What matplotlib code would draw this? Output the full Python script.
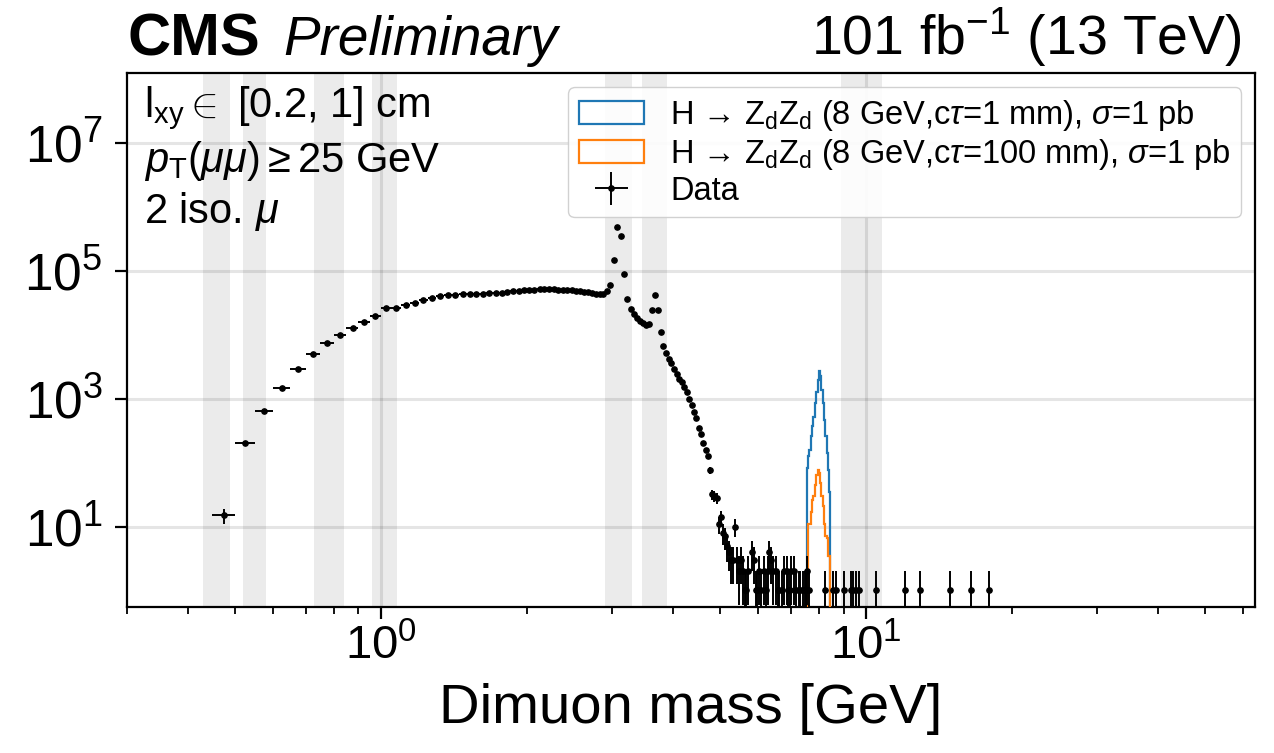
import numpy as np
import matplotlib
matplotlib.use("Agg")
import matplotlib.pyplot as plt
from matplotlib.patches import Patch
from matplotlib.ticker import FixedLocator, LogLocator, NullFormatter, NullLocator, LogFormatterSciNotation

plt.rcParams['font.family'] = ['Liberation Sans', 'DejaVu Sans']
plt.rcParams['mathtext.fontset'] = 'custom'
plt.rcParams['mathtext.rm'] = 'Liberation Sans'
plt.rcParams['mathtext.it'] = 'Liberation Sans:italic'
plt.rcParams['mathtext.bf'] = 'Liberation Sans:bold'
plt.rcParams['mathtext.sf'] = 'Liberation Sans'

# ---------------- data ----------------
bin_width = 0.05
first_bin_low = 0.45
# consecutive 0.05 GeV bins starting at 0.45 GeV
counts_main = [
    15, 205, 650, 1500, 2900, 5000, 7500, 10000, 12900, 16200,
    19900, 26000, 26500, 29000, 32000, 35000, 37500, 40000, 41500, 42500,
    43300, 43500, 43700, 44000, 44500, 45000, 46000, 47000, 48000, 49000,
    50000, 50500, 51000, 51500, 51500, 51500, 51500, 51000, 51000, 50500,
    50000, 49500, 48500, 47500, 46500, 45000, 44000, 43000, 43000, 48000,
    60000, 148000, 490000, 350000, 89000, 36500, 25700, 21400, 18700, 16600,
    15200, 14500, 14800, 24500, 42200, 24500, 11000, 6800, 5150, 4200,
    3600, 2950, 2450, 2050, 1860, 1520, 1260, 1000, 790, 620,
    500, 355, 283, 203, 160, 125, 76, 32, 30, 28,
]
# sparse high-mass tail (bin centres, counts)
tail_mass = [4.975, 5.025, 5.075, 5.125, 5.175, 5.225, 5.275, 5.325, 5.375, 5.425,
             5.475, 5.525, 5.575, 5.625, 5.675, 5.725, 5.825, 5.875, 5.925, 5.975,
             6.025, 6.075, 6.175, 6.225, 6.275, 6.325, 6.375, 6.425, 6.525, 6.575,
             6.625, 6.725, 6.775, 6.875, 6.925, 6.975, 7.025, 7.125, 7.175, 7.275,
             7.325, 7.425, 7.475, 7.525, 7.575, 7.625, 8.225, 8.575, 8.675, 9.025,
             9.325, 9.425, 9.525, 9.675, 10.475, 12.025, 12.925, 14.875, 16.475, 17.925]
tail_counts = [11, 14, 8, 7, 5, 4, 3, 3, 10, 3,
               2, 3, 2, 1, 1, 2, 4, 3, 1, 1,
               2, 1, 2, 1, 2, 4, 3, 2, 2, 1,
               1, 1, 2, 2, 1, 1, 2, 2, 1, 1,
               1, 1, 1, 1, 2, 1, 1, 1, 1, 1,
               1, 1, 1, 1, 1, 1, 1, 1, 1, 1]

# signal histograms (8 GeV Zd)
sig1_low = 7.55
sig1_vals = [83, 126, 160, 258, 370, 528, 855, 1300, 1990, 2700,
             2250, 1380, 855, 470, 258, 142, 78, 35]
sig2_low = 7.60
sig2_vals = [11, 11, 17, 26, 30, 45, 65, 78, 70, 48,
             30, 21, 11, 7, 6.6, 3.4, 3.4]

veto_windows = [(0.43, 0.49), (0.52, 0.58), (0.73, 0.84), (0.96, 1.08),
                (2.9, 3.3), (3.45, 3.9), (8.9, 10.8)]

label_sig1 = r"H → Z$_{\mathrm{d}}$Z$_{\mathrm{d}}$ (8 GeV,c$\tau$=1 mm), $\sigma$=1 pb"
label_sig2 = r"H → Z$_{\mathrm{d}}$Z$_{\mathrm{d}}$ (8 GeV,c$\tau$=100 mm), $\sigma$=1 pb"

# ---------------- plot ----------------
W, H = 1274, 753
fig = plt.figure(figsize=(W / 100, H / 100), dpi=100)
ax = fig.add_axes([127 / W, (H - 607) / H, (1255 - 127) / W, (607 - 73) / H])
ax.set_xscale('log')
ax.set_yscale('log')
ax.set_xlim(0.3, 63.4)
ax.set_ylim(0.55, 1.26e8)

for lo, hi in veto_windows:
    ax.axvspan(lo, hi, color='black', alpha=0.08, lw=0, zorder=1)

n_main = len(counts_main)
edges_main = first_bin_low + bin_width * np.arange(n_main + 1)
x_main = 0.5 * (edges_main[:-1] + edges_main[1:])
x_all = np.concatenate([x_main, np.array(tail_mass)])
y_all = np.concatenate([np.array(counts_main, float), np.array(tail_counts, float)])
err = np.sqrt(y_all)
err_lo = np.minimum(err, y_all - 1e-4)

sig1_edges = sig1_low + bin_width * np.arange(len(sig1_vals) + 1)
sig2_edges = sig2_low + bin_width * np.arange(len(sig2_vals) + 1)
ax.stairs(sig1_vals, sig1_edges, baseline=1e-3, color='#1f77b4', lw=1.6, zorder=3)
ax.stairs(sig2_vals, sig2_edges, baseline=1e-3, color='#ff7f0e', lw=1.6, zorder=3)

hd = ax.errorbar(x_all, y_all, xerr=bin_width / 2, yerr=[err_lo, err], fmt='o',
                 color='black', markersize=3.8, elinewidth=1.4, capsize=0,
                 label='Data', zorder=4)
h1 = Patch(facecolor='none', edgecolor='#1f77b4', linewidth=1.6, label=label_sig1)
h2 = Patch(facecolor='none', edgecolor='#ff7f0e', linewidth=1.6, label=label_sig2)

# axes styling
for s in ax.spines.values():
    s.set_linewidth(1.6)
ax.yaxis.set_major_locator(FixedLocator([1e1, 1e3, 1e5, 1e7]))
ax.yaxis.set_major_formatter(LogFormatterSciNotation())
ax.yaxis.set_minor_locator(NullLocator())
ax.xaxis.set_major_locator(LogLocator(base=10))
ax.xaxis.set_minor_locator(LogLocator(base=10, subs=np.arange(2, 10)))
ax.xaxis.set_minor_formatter(NullFormatter())
ax.tick_params(which='major', direction='out', length=8.5, width=1.6)
ax.tick_params(axis='y', which='major', labelsize=37, pad=9)
ax.tick_params(axis='x', which='major', labelsize=34, pad=4)
ax.tick_params(which='minor', direction='out', length=5, width=1.3)
ax.grid(True, which='major', color='black', alpha=0.1, lw=2.2)

ax.set_xlabel('Dimuon mass [GeV]', fontsize=40.5, labelpad=10)

ax.text(0.015, 0.978,
        "l$_{\\mathrm{xy}}\\in$ [0.2, 1] cm\n$p_{\\mathrm{T}}(\\mu\\mu)\\geq$25 GeV\n2 iso. $\\mu$",
        transform=ax.transAxes, va='top', ha='left', fontsize=30, linespacing=1.2)

leg = ax.legend(handles=[h1, h2, hd], loc='upper right', bbox_to_anchor=(0.988, 0.973),
                borderaxespad=0, fontsize=23.5, handlelength=2.0, handleheight=0.7,
                labelspacing=0.12, handletextpad=0.8, borderpad=0.32,
                frameon=True, fancybox=True, edgecolor='#cccccc', framealpha=0.9)

fig.text(127 / W, (H - 55) / H, 'CMS', fontsize=43, fontweight='bold', va='baseline', ha='left')
fig.text(283 / W, (H - 55) / H, 'Preliminary', fontsize=39.5, style='italic', va='baseline', ha='left')
fig.text(1241 / W, (H - 55) / H, r'101 fb$^{-1}$ (13 TeV)', fontsize=40, va='baseline', ha='right')

fig.savefig('out.png', dpi=100)
